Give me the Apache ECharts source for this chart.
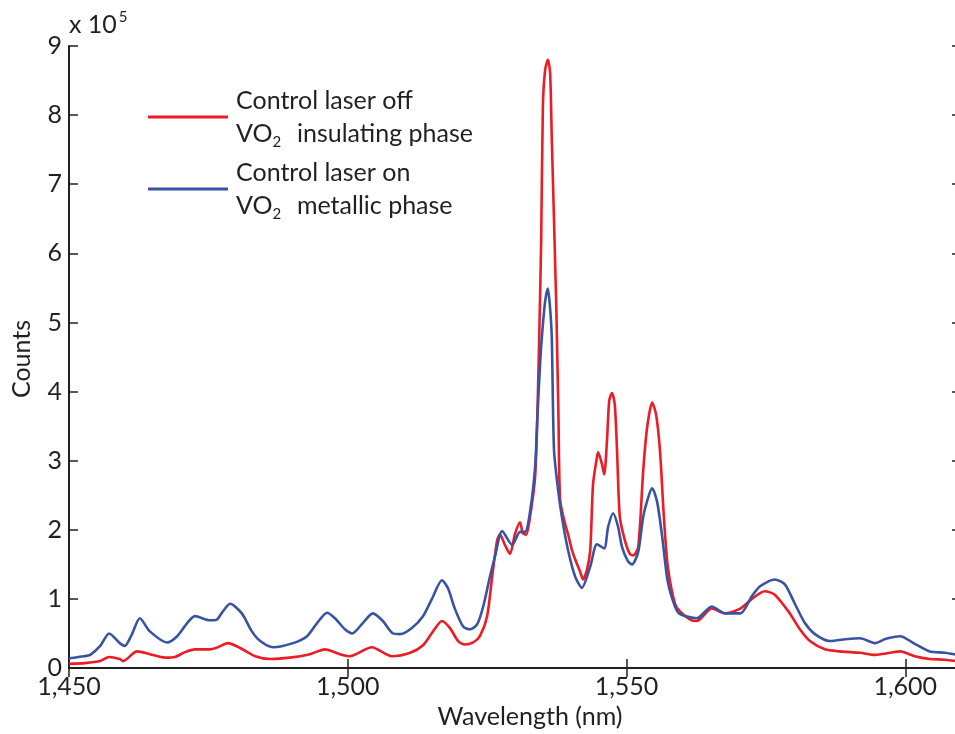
<!DOCTYPE html>
<html>
<head>
<meta charset="utf-8">
<script src="https://cdn.jsdelivr.net/npm/echarts@6/dist/echarts.min.js"></script>
<style>
  html, body { margin: 0; padding: 0; background: #fff; overflow: hidden; width: 955px; height: 734px; }
  #chart { width: 980px; height: 734px; }
</style>
</head>
<body>
<div id="chart"></div>
<script>
// ---- data (counts in units of 10^5) ----
const seriesNames = ['Control laser off, VO2 insulating phase', 'Control laser on, VO2 metallic phase'];
const legendLine1 = ['Control laser off', 'Control laser on'];
const legendLine2 = ['insulating phase', 'metallic phase'];

const redWl = [1450, 1452.9, 1455.6, 1457.2, 1459.1, 1459.7, 1462.2, 1464.5, 1467.2, 1469.0, 1470.8, 1472.6, 1475.3, 1476.7, 1478.5, 1480.7, 1483.4, 1486.1, 1489.6, 1493.2, 1495.9, 1498.6, 1500.4, 1504.3, 1507.9, 1511.2, 1513.5, 1515.3, 1516.9, 1518.3, 1519.8, 1521.0, 1522.5, 1523.7, 1525.0, 1525.9, 1526.8, 1527.3, 1528.2, 1529.1, 1530.0, 1530.9, 1531.4, 1532.0, 1532.7, 1533.6, 1534.0, 1534.4, 1534.7, 1535.0, 1535.4, 1535.9, 1536.3, 1536.6, 1537.4, 1537.8, 1538.1, 1539.0, 1539.5, 1540.2, 1540.8, 1541.7, 1542.2, 1542.9, 1543.5, 1544.0, 1544.7, 1544.9, 1545.6, 1546.0, 1546.5, 1546.9, 1547.4, 1547.9, 1548.3, 1548.8, 1549.7, 1550.6, 1551.2, 1552.1, 1553.0, 1553.7, 1554.6, 1555.3, 1556.0, 1556.7, 1557.4, 1558.7, 1559.6, 1561.4, 1562.6, 1565.3, 1567.7, 1570.4, 1572.5, 1574.8, 1576.6, 1579.3, 1581.1, 1582.9, 1585.6, 1588.3, 1591.9, 1594.6, 1597.3, 1599.1, 1601.7, 1604.4, 1607.1, 1610];
const redCounts = [0.06, 0.07, 0.10, 0.16, 0.13, 0.10, 0.24, 0.20, 0.15, 0.16, 0.23, 0.27, 0.27, 0.30, 0.36, 0.29, 0.17, 0.13, 0.15, 0.20, 0.27, 0.20, 0.17, 0.30, 0.17, 0.22, 0.33, 0.53, 0.68, 0.58, 0.39, 0.34, 0.37, 0.46, 0.75, 1.32, 1.85, 1.93, 1.78, 1.65, 1.94, 2.11, 1.95, 1.93, 2.19, 2.76, 3.62, 5.00, 6.21, 8.12, 8.65, 8.80, 8.61, 7.65, 5.25, 3.62, 2.43, 2.08, 1.94, 1.71, 1.57, 1.39, 1.28, 1.42, 1.71, 2.66, 3.05, 3.12, 2.95, 2.80, 3.29, 3.87, 3.98, 3.81, 3.15, 2.19, 1.85, 1.65, 1.63, 1.75, 2.86, 3.48, 3.84, 3.67, 3.15, 2.19, 1.47, 0.93, 0.82, 0.70, 0.68, 0.86, 0.79, 0.86, 1.00, 1.11, 1.06, 0.79, 0.56, 0.39, 0.27, 0.24, 0.22, 0.19, 0.22, 0.24, 0.17, 0.13, 0.12, 0.09];

const blueWl = [1450, 1452.7, 1453.8, 1455.6, 1457.2, 1459.1, 1460.0, 1461.3, 1462.7, 1464.5, 1467.6, 1469.4, 1471.2, 1472.6, 1475.3, 1476.5, 1477.6, 1478.9, 1481.0, 1482.8, 1484.3, 1486.6, 1490.2, 1492.7, 1494.5, 1496.3, 1497.7, 1499.5, 1500.8, 1502.7, 1504.5, 1506.3, 1508.1, 1509.4, 1511.5, 1513.5, 1515.1, 1516.9, 1518.0, 1519.2, 1520.7, 1521.9, 1523.2, 1524.3, 1525.5, 1526.4, 1527.7, 1529.5, 1530.9, 1531.8, 1532.7, 1533.6, 1534.0, 1534.5, 1534.8, 1535.4, 1535.9, 1536.3, 1536.6, 1537.0, 1537.7, 1538.4, 1539.5, 1540.8, 1542.0, 1543.5, 1544.7, 1546.0, 1546.7, 1547.6, 1548.5, 1549.2, 1550.3, 1551.0, 1552.1, 1553.0, 1553.9, 1554.6, 1555.5, 1556.4, 1557.4, 1558.7, 1559.6, 1562.6, 1565.3, 1567.7, 1570.4, 1572.5, 1573.9, 1576.6, 1578.4, 1580.2, 1582.0, 1583.8, 1586.5, 1589.7, 1591.9, 1594.6, 1596.4, 1599.1, 1601.7, 1604.4, 1607.1, 1610];
const blueCounts = [0.14, 0.17, 0.19, 0.32, 0.50, 0.36, 0.32, 0.49, 0.72, 0.53, 0.37, 0.46, 0.65, 0.75, 0.69, 0.70, 0.82, 0.93, 0.79, 0.53, 0.39, 0.30, 0.36, 0.46, 0.65, 0.80, 0.72, 0.56, 0.50, 0.65, 0.79, 0.68, 0.50, 0.49, 0.58, 0.75, 1.00, 1.27, 1.15, 0.86, 0.60, 0.56, 0.63, 0.89, 1.32, 1.61, 1.98, 1.78, 1.97, 1.97, 2.26, 2.90, 3.60, 4.40, 4.77, 5.30, 5.49, 5.20, 4.77, 3.15, 2.60, 2.19, 1.71, 1.32, 1.16, 1.47, 1.79, 1.73, 2.04, 2.24, 2.04, 1.75, 1.54, 1.50, 1.68, 2.19, 2.47, 2.60, 2.40, 1.90, 1.25, 0.89, 0.78, 0.72, 0.89, 0.79, 0.79, 1.04, 1.18, 1.28, 1.21, 0.93, 0.65, 0.49, 0.39, 0.42, 0.43, 0.36, 0.42, 0.46, 0.35, 0.24, 0.22, 0.18];

const xTickValues = [1450, 1500, 1550, 1600];
const xTickLabels = ['1,450', '1,500', '1,550', '1,600'];
const yTickValues = [0, 1, 2, 3, 4, 5, 6, 7, 8, 9];

// ---- chart ----
const FONT = 'Lato';
const TXT = '#231f20';
const AX = '#231f20';
const zip = (xs, ys) => xs.map((x, i) => [x, ys[i]]);

const chart = echarts.init(document.getElementById('chart'), null, { renderer: 'canvas', width: 980, height: 734 });

const axisCommon = {
  type: 'value', min: 1450, max: 1610, interval: 50,
  axisLine: { show: true, lineStyle: { color: AX, width: 2 } },
  axisTick: { show: true, inside: true, length: 9, lineStyle: { color: AX, width: 1.5 } },
  splitLine: { show: false }
};
const yCommon = {
  type: 'value', min: 0, max: 9, interval: 1,
  axisLine: { show: true, lineStyle: { color: AX, width: 2 } },
  axisTick: { show: true, inside: true, length: 9, lineStyle: { color: AX, width: 1.5 } },
  splitLine: { show: false }
};

chart.setOption({
  animation: false,
  backgroundColor: '#ffffff',
  textStyle: { fontFamily: FONT },
  grid: { left: 69, top: 46, right: 19, bottom: 62, containLabel: false },
  legend: {
    orient: 'vertical', left: 148, top: 88, itemGap: 10, padding: 0,
    itemWidth: 80, itemHeight: 3, icon: 'rect',
    data: seriesNames,
    formatter: function (name) {
      const i = seriesNames.indexOf(name);
      return '{a|' + legendLine1[i] + '}\n{a|VO}{s|2}{a|  ' + legendLine2[i] + '}';
    },
    textStyle: {
      rich: {
        a: { fontFamily: FONT, fontSize: 25, lineHeight: 33, color: TXT, padding: [0, 0, 0, 3] },
        s: { fontFamily: FONT, fontSize: 15, lineHeight: 17, color: TXT, verticalAlign: 'bottom' }
      }
    }
  },
  xAxis: [
    Object.assign({}, axisCommon, {
      position: 'bottom',
      name: 'Wavelength (nm)', nameLocation: 'middle', nameGap: 36,
      nameTextStyle: { fontFamily: FONT, fontSize: 25, color: TXT, padding: [0, 0, 0, 30] },
      axisLabel: {
        show: true, margin: 6, fontFamily: FONT, fontSize: 25, color: TXT,
        showMaxLabel: false,
        formatter: function (v) { const i = xTickValues.indexOf(v); return i >= 0 ? xTickLabels[i] : ''; }
      }
    }),
    Object.assign({}, axisCommon, { position: 'top', axisLabel: { show: false } })
  ],
  yAxis: [
    Object.assign({}, yCommon, {
      position: 'left',
      name: '{a|x 10}{s|5}', nameLocation: 'end', nameGap: 6,
      nameTextStyle: {
        align: 'left', verticalAlign: 'bottom',
        rich: {
          a: { fontFamily: FONT, fontSize: 25, color: TXT, lineHeight: 30 },
          s: { fontFamily: FONT, fontSize: 15, color: TXT, verticalAlign: 'top', lineHeight: 13, padding: [0, 0, 0, 2] }
        }
      },
      axisLabel: {
        show: true, margin: 7, fontFamily: FONT, fontSize: 25, color: TXT,
        formatter: function (v) { return yTickValues.indexOf(v) >= 0 ? String(v) : ''; }
      }
    }),
    Object.assign({}, yCommon, { position: 'right', axisLabel: { show: false } })
  ],
  graphic: [{
    type: 'text', x: 22, y: 359, rotation: Math.PI / 2,
    style: { text: 'Counts', fontFamily: FONT, fontSize: 25, fill: TXT, align: 'center', verticalAlign: 'middle' }
  }],
  series: [
    {
      name: seriesNames[0], type: 'line', xAxisIndex: 0, yAxisIndex: 0,
      data: zip(redWl, redCounts), showSymbol: false, smooth: 0.25,
      lineStyle: { color: '#ed1c24', width: 2.6 }, itemStyle: { color: '#ed1c24' }, z: 2
    },
    {
      name: seriesNames[1], type: 'line', xAxisIndex: 0, yAxisIndex: 0,
      data: zip(blueWl, blueCounts), showSymbol: false, smooth: 0.25,
      lineStyle: { color: '#3953a4', width: 2.6 }, itemStyle: { color: '#3953a4' }, z: 3
    }
  ]
});
</script>
</body>
</html>
